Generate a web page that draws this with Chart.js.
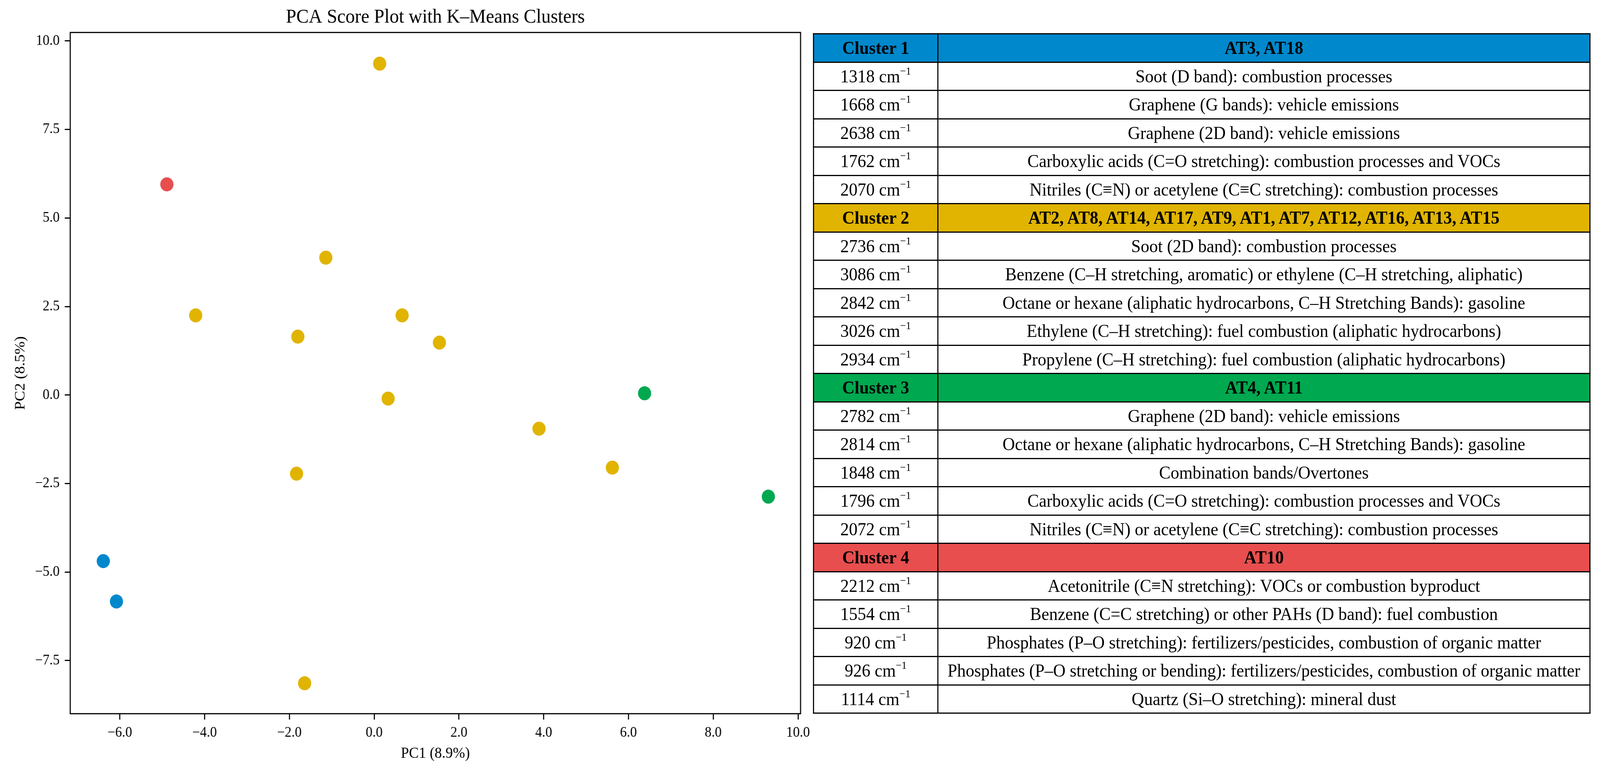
<!DOCTYPE html>
<html>
<head>
    <meta charset="UTF-8">
    <title>PCA Score Plot with K-Means Clusters</title>
    <script src="https://cdn.jsdelivr.net/npm/chart.js"></script>
    <style>
        html, body {
            margin: 0;
            padding: 0;
            background: #fff;
            overflow: hidden;
        }
        #page {
            position: absolute;
            left: 0;
            top: 0;
            width: 4375px;
            height: 1985px;
            transform-origin: 0 0;
            font-family: "Palatino Linotype", Palatino, "Book Antiqua", "Liberation Serif", serif;
        }
        .plot-box {
            position: absolute;
            left: 0;
            top: 0;
            width: 2260px;
            height: 1985px;
        }
        #clusterTable {
            position: absolute;
            left: 2223px;
            top: 85px;
            width: 2123px;
            height: 1740px;
            border-collapse: collapse;
            table-layout: fixed;
            font-size: 47px;
            color: #000;
        }
        #clusterTable td {
            border: 3px solid #000;
            height: 69.5px;
            padding: 0;
            text-align: center;
            vertical-align: middle;
            white-space: nowrap;
            line-height: 1;
        }
        #clusterTable tr.head td {
            font-weight: bold;
        }
        #clusterTable sup {
            font-size: 0.6em;
            line-height: 0;
            vertical-align: 0.7em;
        }
    </style>
</head>
<body>
<div id="page">
    <div class="plot-box">
        <canvas id="pcaChart"></canvas>
    </div>
    <table id="clusterTable">
        <colgroup>
            <col style="width: 340px">
            <col style="width: 1783px">
        </colgroup>
        <tbody id="tableBody"></tbody>
    </table>
</div>

<script>
    // PCA scores per cluster
    const cluster1X = [-6.39, -6.08];
    const cluster1Y = [-4.69, -5.83];
    const cluster2X = [0.13, -1.14, -4.21, 0.66, -1.80, 1.54, 0.33, 3.89, -1.83, 5.62, -1.64];
    const cluster2Y = [9.36, 3.88, 2.25, 2.25, 1.65, 1.48, -0.10, -0.95, -2.22, -2.05, -8.14];
    const cluster3X = [6.38, 9.30];
    const cluster3Y = [0.05, -2.87];
    const cluster4X = [-4.89];
    const cluster4Y = [5.95];

    const clusterColors = ['#0088cc', '#e0b400', '#00a84f', '#e84e4e'];

    const xTicks = [-6, -4, -2, 0, 2, 4, 6, 8, 10];
    const yTicks = [-7.5, -5, -2.5, 0, 2.5, 5, 7.5, 10];

    // table contents
    const clusterNames = ['Cluster 1', 'Cluster 2', 'Cluster 3', 'Cluster 4'];
    const clusterMembers = [
        'AT3, AT18',
        'AT2, AT8, AT14, AT17, AT9, AT1, AT7, AT12, AT16, AT13, AT15',
        'AT4, AT11',
        'AT10'
    ];
    const bandWavenumbers = [
        [1318, 1668, 2638, 1762, 2070],
        [2736, 3086, 2842, 3026, 2934],
        [2782, 2814, 1848, 1796, 2072],
        [2212, 1554, 920, 926, 1114]
    ];
    const bandAssignments = [
        ['Soot (D band): combustion processes',
         'Graphene (G bands): vehicle emissions',
         'Graphene (2D band): vehicle emissions',
         'Carboxylic acids (C=O stretching): combustion processes and VOCs',
         'Nitriles (C≡N) or acetylene (C≡C stretching): combustion processes'],
        ['Soot (2D band): combustion processes',
         'Benzene (C–H stretching, aromatic) or ethylene (C–H stretching, aliphatic)',
         'Octane or hexane (aliphatic hydrocarbons, C–H Stretching Bands): gasoline',
         'Ethylene (C–H stretching): fuel combustion (aliphatic hydrocarbons)',
         'Propylene (C–H stretching): fuel combustion (aliphatic hydrocarbons)'],
        ['Graphene (2D band): vehicle emissions',
         'Octane or hexane (aliphatic hydrocarbons, C–H Stretching Bands): gasoline',
         'Combination bands/Overtones',
         'Carboxylic acids (C=O stretching): combustion processes and VOCs',
         'Nitriles (C≡N) or acetylene (C≡C stretching): combustion processes'],
        ['Acetonitrile (C≡N stretching): VOCs or combustion byproduct',
         'Benzene (C=C stretching) or other PAHs (D band): fuel combustion',
         'Phosphates (P–O stretching): fertilizers/pesticides, combustion of organic matter',
         'Phosphates (P–O stretching or bending): fertilizers/pesticides, combustion of organic matter',
         'Quartz (Si–O stretching): mineral dust']
    ];

    // the layout is drawn for 4375px; squeeze it if the window is narrower
    const pageScale = Math.min(1, window.innerWidth / 4375);
    document.getElementById('page').style.transform = `scale(${pageScale}, 1)`;

    // build the table
    const tableBody = document.getElementById('tableBody');
    let rows = '';
    clusterNames.forEach((name, i) => {
        rows += `<tr class="head" style="background:${clusterColors[i]}">
                    <td>${name}</td><td>${clusterMembers[i]}</td></tr>`;
        bandWavenumbers[i].forEach((wn, j) => {
            rows += `<tr><td>${wn} cm<sup>\u22121</sup></td><td>${bandAssignments[i][j]}</td></tr>`;
        });
    });
    tableBody.innerHTML = rows;

    const toPoints = (xs, ys) => xs.map((x, i) => ({x: x, y: ys[i]}));
    const serif = '"Palatino Linotype", Palatino, "Book Antiqua", "Liberation Serif", serif';
    const fmt = v => v.toFixed(1).replace('-', '\u2212');

    // frame around the plot area, like matplotlib spines
    const framePlugin = {
        id: 'frame',
        afterDraw(chart) {
            const a = chart.chartArea;
            const ctx = chart.ctx;
            ctx.save();
            ctx.strokeStyle = '#000';
            ctx.lineWidth = 3;
            ctx.strokeRect(a.left, a.top, a.right - a.left, a.bottom - a.top);
            ctx.restore();
        }
    };

    const pcaChart = new Chart(document.getElementById('pcaChart'), {
        type: 'scatter',
        data: {
            datasets: [
                {label: 'Cluster 1', data: toPoints(cluster1X, cluster1Y), backgroundColor: clusterColors[0]},
                {label: 'Cluster 2', data: toPoints(cluster2X, cluster2Y), backgroundColor: clusterColors[1]},
                {label: 'Cluster 3', data: toPoints(cluster3X, cluster3Y), backgroundColor: clusterColors[2]},
                {label: 'Cluster 4', data: toPoints(cluster4X, cluster4Y), backgroundColor: clusterColors[3]}
            ]
        },
        options: {
            responsive: true,
            maintainAspectRatio: false,
            animation: false,
            elements: {
                point: {radius: 18, borderWidth: 0, hoverRadius: 18}
            },
            layout: {
                padding: {left: 0, right: 71, top: 0, bottom: 0}
            },
            plugins: {
                legend: {display: false},
                tooltip: {enabled: false},
                title: {
                    display: true,
                    text: 'PCA Score Plot with K–Means Clusters',
                    color: '#000',
                    fullSize: false,
                    font: {family: serif, size: 51, weight: 'normal', lineHeight: 1.2},
                    padding: {top: 14, bottom: 8}
                }
            },
            scales: {
                x: {
                    type: 'linear',
                    min: -7.17,
                    max: 10.06,
                    afterBuildTicks: scale => { scale.ticks = xTicks.map(v => ({value: v})); },
                    afterFit: scale => { scale.height = 157; },
                    border: {display: false},
                    grid: {
                        drawOnChartArea: false,
                        drawTicks: true,
                        tickLength: 15,
                        tickWidth: 3,
                        tickColor: '#000'
                    },
                    ticks: {
                        color: '#000',
                        padding: 12,
                        maxRotation: 0,
                        font: {family: serif, size: 37},
                        callback: v => fmt(v)
                    },
                    title: {
                        display: true,
                        text: 'PC1 (8.9%)',
                        color: '#000',
                        font: {family: serif, size: 40},
                        padding: {top: 0, bottom: 31}
                    }
                },
                y: {
                    type: 'linear',
                    min: -9.0,
                    max: 10.24,
                    afterBuildTicks: scale => { scale.ticks = yTicks.map(v => ({value: v})); },
                    afterFit: scale => { scale.width = 192; },
                    border: {display: false},
                    grid: {
                        drawOnChartArea: false,
                        drawTicks: true,
                        tickLength: 15,
                        tickWidth: 3,
                        tickColor: '#000'
                    },
                    ticks: {
                        color: '#000',
                        padding: 14,
                        font: {family: serif, size: 37},
                        callback: v => fmt(v)
                    },
                    title: {
                        display: true,
                        text: 'PC2 (8.5%)',
                        color: '#000',
                        font: {family: serif, size: 40},
                        padding: {top: 32, bottom: 0}
                    }
                }
            }
        },
        plugins: [framePlugin]
    });
</script>
</body>
</html>
